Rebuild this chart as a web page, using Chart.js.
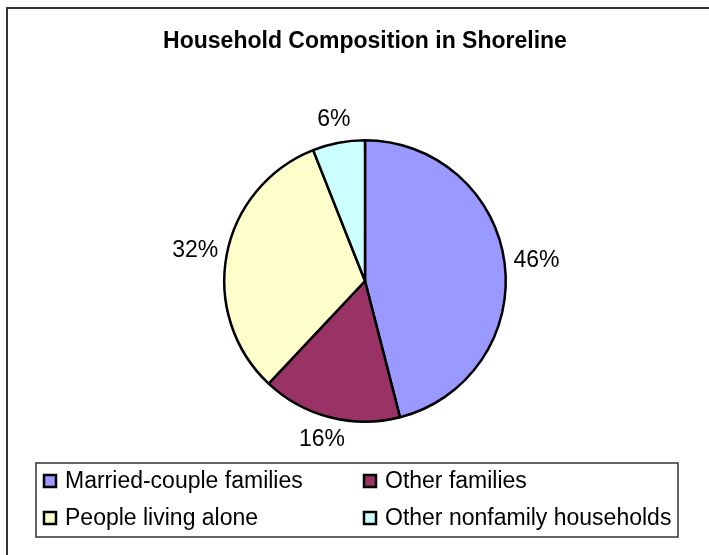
<!DOCTYPE html>
<html>
<head>
<meta charset="utf-8">
<title>Household Composition in Shoreline</title>
<script src="https://cdn.jsdelivr.net/npm/chart.js@4.4.0/dist/chart.umd.min.js"></script>
<style>
  html, body { margin: 0; padding: 0; background: #fff; }
</style>
</head>
<body>
<canvas id="householdChart" width="709" height="555"></canvas>
<script>
const categories = ['Married-couple families', 'Other families', 'People living alone', 'Other nonfamily households'];
const shares = [46, 16, 32, 6];
const sliceColors = ['#9999FF', '#993366', '#FFFFCC', '#CCFFFF'];
const chartTitle = 'Household Composition in Shoreline';

const FONT = '"Liberation Sans", Arial, sans-serif';

// outer frame (only the left and top edges fall inside the canvas) + title
const framePlugin = {
  id: 'frame',
  beforeDraw(chart) {
    const ctx = chart.ctx;
    ctx.save();
    ctx.fillStyle = '#fff';
    ctx.fillRect(0, 0, chart.width, chart.height);
    ctx.strokeStyle = '#333';
    ctx.lineWidth = 2;
    ctx.beginPath();
    ctx.moveTo(7, chart.height + 5);
    ctx.lineTo(7, 8);
    ctx.lineTo(chart.width + 5, 8);
    ctx.stroke();

    ctx.fillStyle = '#000';
    ctx.font = 'bold 23px ' + FONT;
    ctx.textAlign = 'center';
    ctx.textBaseline = 'middle';
    ctx.fillText(chartTitle, 365, 42);
    ctx.restore();
  }
};

// percentage labels just outside each slice
const sliceLabels = {
  id: 'sliceLabels',
  afterDatasetsDraw(chart) {
    const ctx = chart.ctx;
    const meta = chart.getDatasetMeta(0);
    ctx.save();
    ctx.font = '23px ' + FONT;
    ctx.fillStyle = '#000';
    ctx.textAlign = 'center';
    ctx.textBaseline = 'middle';
    meta.data.forEach((arc, i) => {
      const p = arc.getProps(['x', 'y', 'startAngle', 'endAngle', 'outerRadius'], true);
      const mid = (p.startAngle + p.endAngle) / 2;
      const dx = Math.cos(mid), dy = Math.sin(mid);
      const text = shares[i] + '%';
      const w = ctx.measureText(text).width;
      const h = 28;
      const r = p.outerRadius + 9;
      const cx = p.x + dx * r + dx * w / 2;
      const cy = p.y + dy * r + dy * h / 2;
      ctx.fillText(text, cx, cy);
    });
    ctx.restore();
  }
};

// boxed two-column legend under the pie
const boxLegend = {
  id: 'boxLegend',
  afterDraw(chart) {
    const ctx = chart.ctx;
    const colors = chart.data.datasets[0].backgroundColor;
    ctx.save();
    ctx.strokeStyle = '#333';
    ctx.lineWidth = 1.5;
    ctx.strokeRect(36, 463, 642, 74);

    const colX = [44, 364];
    ctx.font = '23px ' + FONT;
    ctx.textAlign = 'left';
    ctx.textBaseline = 'middle';
    chart.data.labels.forEach((label, i) => {
      const x = colX[i % 2];
      const y = 481 + Math.floor(i / 2) * 37;
      ctx.fillStyle = colors[i];
      ctx.fillRect(x, y - 6, 12, 12);
      ctx.strokeStyle = '#000';
      ctx.lineWidth = 2.5;
      ctx.strokeRect(x, y - 6, 12, 12);
      ctx.fillStyle = '#000';
      ctx.fillText(label, x + 21, y + 1);
    });
    ctx.restore();
  }
};

new Chart(document.getElementById('householdChart').getContext('2d'), {
  type: 'pie',
  data: {
    labels: categories,
    datasets: [{
      data: shares,
      backgroundColor: sliceColors,
      borderColor: '#000',
      borderWidth: 2.5
    }]
  },
  options: {
    responsive: false,
    animation: false,
    layout: { padding: { left: 223, right: 202, top: 139, bottom: 132 } },
    plugins: {
      legend: { display: false },
      tooltip: { enabled: false },
      title: { display: false }
    }
  },
  plugins: [framePlugin, sliceLabels, boxLegend]
});
</script>
</body>
</html>
